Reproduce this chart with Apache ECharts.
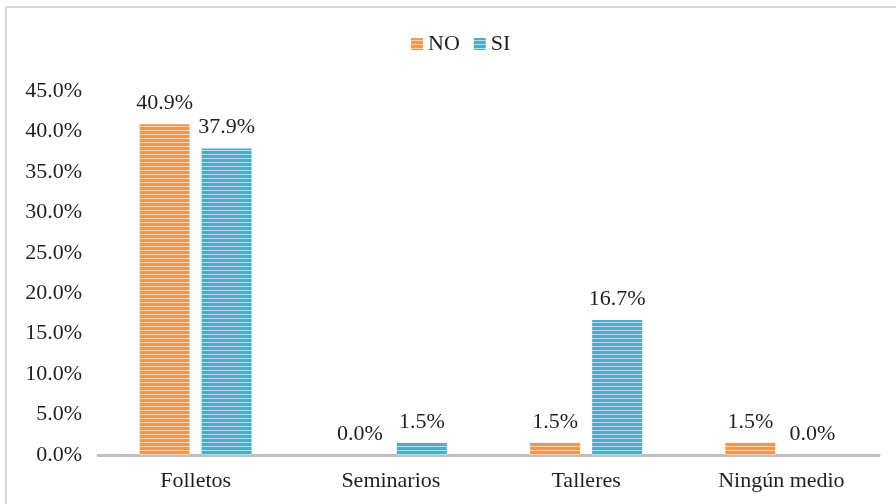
<!DOCTYPE html>
<html>
<head>
<meta charset="utf-8">
<script src="https://cdn.jsdelivr.net/npm/echarts@6/dist/echarts.min.js"></script>
<style>
  html, body { margin: 0; padding: 0; background: #fff; }
  #chart { width: 896px; height: 504px; }
  .frame { position: absolute; left: 5px; top: 6px; width: 900px; height: 510px; border-left: 2px solid #d9d9d9; border-top: 2px solid #d9d9d9; pointer-events: none; }
</style>
</head>
<body>
<div id="chart"></div>
<div class="frame"></div>
<script>
const categories = ["Folletos", "Seminarios", "Talleres", "Ningún medio"]
const seriesNames = ["NO", "SI"]
const noValues = [40.9, 0.0, 1.5, 1.5]
const siValues = [37.9, 1.5, 16.7, 0.0]
const yTicks = { min: 0, max: 45, interval: 5 }

// horizontal striped fill like the original
const stripes = (base, light) => {
  const c = document.createElement("canvas")
  c.width = 4
  c.height = 4
  const ctx = c.getContext("2d")
  ctx.fillStyle = base
  ctx.fillRect(0, 0, 4, 4)
  ctx.fillStyle = light
  ctx.fillRect(0, 2, 4, 1)
  return { image: c, repeat: "repeat" }
}

const font = "'Liberation Serif', 'Times New Roman', serif"
const textColor = "#1f1f1f"
const label = {
  show: true,
  position: "top",
  distance: 10,
  fontFamily: font,
  fontSize: 22,
  color: textColor,
  formatter: (p) => p.value.toFixed(1) + "%"
}

const chart = echarts.init(document.getElementById("chart"))
chart.setOption({
  animation: false,
  textStyle: { fontFamily: font },
  legend: {
    top: 28,
    left: 406,
    icon: "rect",
    itemWidth: 12,
    itemHeight: 12,
    itemGap: 14,
    textStyle: { fontFamily: font, fontSize: 22, color: textColor },
    data: seriesNames
  },
  grid: { left: 98, right: 17, top: 91, bottom: 49 },
  xAxis: {
    type: "category",
    data: categories,
    axisLine: { lineStyle: { color: "#bfbfbf", width: 3 } },
    axisTick: { show: false },
    axisLabel: { fontFamily: font, fontSize: 22, color: textColor, margin: 15 }
  },
  yAxis: {
    type: "value",
    min: yTicks.min,
    max: yTicks.max,
    interval: yTicks.interval,
    splitLine: { show: false },
    axisLine: { show: false },
    axisTick: { show: false },
    axisLabel: {
      fontFamily: font,
      fontSize: 22,
      color: textColor,
      margin: 16,
      formatter: (v) => v.toFixed(1) + "%"
    }
  },
  series: [
    {
      name: seriesNames[0],
      type: "bar",
      data: noValues,
      barWidth: 50,
      barGap: "24%",
      itemStyle: { color: stripes("#f79646", "#fcd2b0") },
      label
    },
    {
      name: seriesNames[1],
      type: "bar",
      data: siValues,
      barWidth: 50,
      itemStyle: { color: stripes("#4bacc6", "#b4e0ec") },
      label
    }
  ]
})
</script>
</body>
</html>
